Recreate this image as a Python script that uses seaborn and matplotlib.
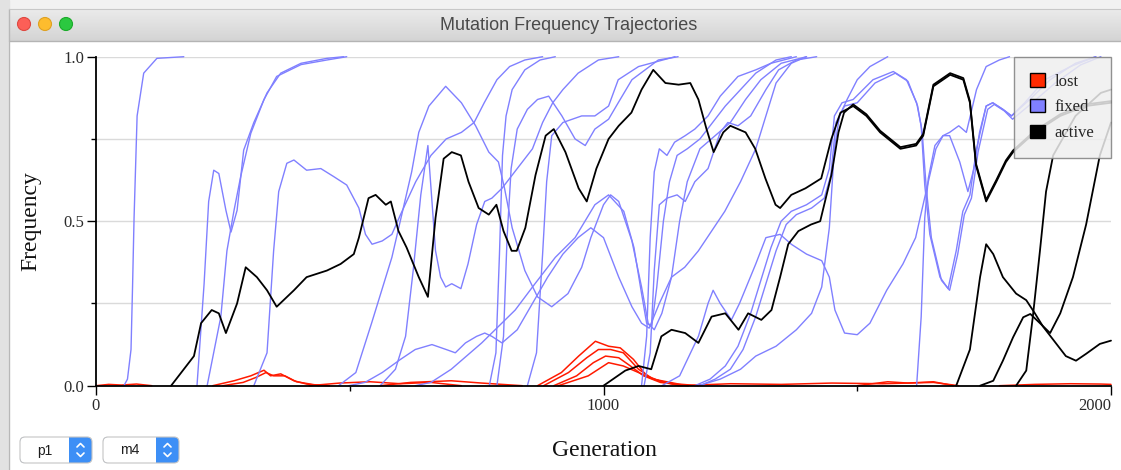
import numpy as np
import pandas as pd
import matplotlib
matplotlib.use("Agg")
import matplotlib.pyplot as plt
import seaborn as sns
from matplotlib.patches import Rectangle, Circle, FancyBboxPatch, Patch

# ---------------------------------------------------------------------------
# Mutation trajectories: (generations, frequencies) for each mutation
# ---------------------------------------------------------------------------
# lost mutations
lost_a = ([230, 272, 305, 331, 344, 364, 390, 415, 440], [0, 0.015, 0.03, 0.047, 0.03, 0.036, 0.015, 0.005, 0])
lost_b = ([250, 290, 315, 335, 350, 372, 395, 430, 460], [0, 0.01, 0.025, 0.04, 0.03, 0.03, 0.012, 0.003, 0])
lost_c = ([870, 917, 951, 984, 1010, 1033, 1059, 1085, 1118, 1167], [0, 0.04, 0.09, 0.135, 0.12, 0.115, 0.08, 0.03, 0.01, 0])
lost_d = ([882, 931, 967, 990, 1014, 1039, 1069, 1098, 1148], [0, 0.04, 0.085, 0.11, 0.11, 0.10, 0.05, 0.02, 0])
lost_e = ([902, 947, 980, 1004, 1030, 1053, 1079, 1112, 1167], [0, 0.03, 0.07, 0.09, 0.085, 0.06, 0.03, 0.01, 0])
lost_f = ([911, 970, 1010, 1039, 1069, 1098, 1148, 1187], [0, 0.03, 0.07, 0.06, 0.04, 0.02, 0.005, 0])
lost_g = ([0, 25, 50, 80, 110], [0, 0.004, 0.002, 0.005, 0])
lost_h = ([420, 480, 540, 600, 660, 720], [0, 0.008, 0.012, 0.006, 0.01, 0])
lost_i = ([560, 620, 700, 760, 800, 840], [0, 0.01, 0.015, 0.008, 0.004, 0])
lost_j = ([1150, 1250, 1350, 1450, 1550, 1650, 1700], [0, 0.006, 0.004, 0.008, 0.006, 0.01, 0])
lost_k = ([1500, 1560, 1600, 1650, 1690], [0, 0.012, 0.008, 0.012, 0])
lost_l = ([1780, 1850, 1920, 1980, 2000], [0, 0.004, 0.006, 0.005, 0.004])

# fixed mutations
fixed_01 = ([55, 62, 69, 72, 75, 81, 94, 120, 173], [0, 0.02, 0.11, 0.30, 0.51, 0.82, 0.95, 0.995, 1.0])
fixed_02 = ([199, 213, 222, 232, 242, 256, 266, 278, 291, 311, 337, 364, 404, 455, 488],
            [0, 0.31, 0.56, 0.655, 0.645, 0.533, 0.467, 0.533, 0.716, 0.80, 0.89, 0.95, 0.98, 0.995, 1.0])
fixed_03 = ([219, 246, 258, 272, 285, 305, 331, 356, 404, 455, 494],
            [0, 0.21, 0.41, 0.533, 0.635, 0.767, 0.87, 0.94, 0.976, 0.99, 1.0])
fixed_04 = ([311, 337, 350, 360, 376, 390, 415, 443, 469, 494, 518, 531, 544, 564, 583, 600, 630, 660, 690, 720, 745, 765, 790, 815, 845, 880],
            [0, 0.10, 0.41, 0.59, 0.676, 0.686, 0.655, 0.66, 0.635, 0.61, 0.54, 0.46, 0.43, 0.44, 0.46, 0.52, 0.62, 0.70, 0.75, 0.77, 0.80, 0.86, 0.93, 0.97, 0.99, 1.0])
fixed_05 = ([478, 512, 543, 583, 622, 636, 656, 689, 720, 748, 774, 793, 805, 820, 845, 870, 898, 930, 957, 975, 1000, 1014, 1030, 1056, 1075, 1088, 1100, 1115, 1134, 1150, 1165, 1190, 1220, 1250, 1280, 1310, 1350, 1400],
            [0, 0.04, 0.19, 0.39, 0.65, 0.77, 0.85, 0.91, 0.86, 0.79, 0.71, 0.68, 0.60, 0.48, 0.35, 0.27, 0.24, 0.28, 0.36, 0.45, 0.55, 0.58, 0.56, 0.44, 0.30, 0.19, 0.17, 0.22, 0.33, 0.50, 0.62, 0.72, 0.76, 0.80, 0.87, 0.93, 0.98, 1.0])
fixed_06 = ([560, 590, 610, 625, 640, 654, 662, 669, 679, 689, 701, 719, 733, 750, 766, 780, 800, 830, 860, 880, 900, 920, 950, 990, 1030],
            [0, 0.05, 0.15, 0.35, 0.58, 0.73, 0.56, 0.41, 0.33, 0.30, 0.31, 0.295, 0.37, 0.49, 0.56, 0.57, 0.60, 0.66, 0.72, 0.80, 0.86, 0.90, 0.95, 0.99, 1.0])
fixed_07 = ([775, 788, 795, 801, 808, 820, 845, 875, 905], [0, 0.10, 0.40, 0.70, 0.82, 0.90, 0.96, 0.99, 1.0])
fixed_08 = ([790, 803, 810, 818, 830, 850, 870, 892, 918, 944, 964, 983, 1010, 1029, 1056, 1108, 1147],
            [0, 0.15, 0.45, 0.66, 0.78, 0.84, 0.87, 0.88, 0.82, 0.75, 0.73, 0.78, 0.81, 0.86, 0.93, 0.99, 1.0])
fixed_09 = ([850, 868, 880, 888, 898, 920, 957, 983, 1010, 1029, 1069, 1141],
            [0, 0.10, 0.40, 0.62, 0.76, 0.80, 0.82, 0.82, 0.85, 0.93, 0.97, 1.0])
fixed_10 = ([498, 530, 564, 600, 629, 662, 690, 708, 728, 750, 766, 780, 800, 830, 860, 890, 920, 950, 975, 1000, 1030, 1056, 1075, 1090, 1110, 1134, 1160, 1187, 1213, 1239, 1270, 1300, 1320, 1340, 1370, 1400],
            [0, 0.01, 0.04, 0.08, 0.11, 0.125, 0.11, 0.10, 0.13, 0.15, 0.16, 0.15, 0.13, 0.17, 0.25, 0.33, 0.40, 0.45, 0.48, 0.45, 0.33, 0.24, 0.19, 0.175, 0.25, 0.33, 0.36, 0.41, 0.47, 0.53, 0.62, 0.72, 0.82, 0.92, 0.98, 1.0])
fixed_11 = ([629, 660, 700, 760, 826, 865, 905, 944, 983, 1010, 1040, 1060, 1075, 1085, 1095, 1105, 1118, 1130, 1145, 1165, 1190, 1215, 1240, 1270, 1300, 1340, 1370],
            [0, 0.01, 0.05, 0.13, 0.23, 0.31, 0.39, 0.45, 0.55, 0.58, 0.53, 0.42, 0.28, 0.19, 0.18, 0.30, 0.50, 0.62, 0.70, 0.72, 0.75, 0.80, 0.85, 0.90, 0.95, 0.99, 1.0])
fixed_12 = ([1115, 1150, 1187, 1206, 1216, 1230, 1252, 1268, 1300, 1320, 1348, 1370, 1400, 1430, 1445, 1456, 1475, 1500, 1525, 1558, 1590, 1615, 1640, 1655, 1669, 1682, 1700, 1715, 1735, 1754, 1780, 1800],
            [0, 0.03, 0.15, 0.25, 0.29, 0.25, 0.20, 0.25, 0.37, 0.45, 0.46, 0.43, 0.40, 0.38, 0.33, 0.23, 0.16, 0.155, 0.19, 0.29, 0.37, 0.45, 0.62, 0.72, 0.76, 0.77, 0.79, 0.77, 0.90, 0.97, 0.99, 1.0])
fixed_13 = ([1187, 1230, 1270, 1300, 1340, 1380, 1410, 1430, 1445, 1455, 1465, 1480, 1500, 1525, 1560],
            [0, 0.02, 0.05, 0.09, 0.12, 0.17, 0.22, 0.30, 0.48, 0.72, 0.82, 0.87, 0.93, 0.97, 1.0])
fixed_14 = ([1075, 1085, 1092, 1100, 1110, 1125, 1140, 1161, 1180, 1206, 1230, 1265, 1300, 1330, 1380],
            [0, 0.15, 0.45, 0.65, 0.72, 0.70, 0.74, 0.76, 0.78, 0.82, 0.88, 0.94, 0.96, 0.98, 1.0])
fixed_15 = ([1080, 1092, 1100, 1110, 1125, 1145, 1161, 1180, 1206, 1230, 1245, 1265, 1290, 1320, 1345, 1380, 1420],
            [0, 0.10, 0.35, 0.55, 0.57, 0.58, 0.56, 0.62, 0.66, 0.77, 0.80, 0.79, 0.82, 0.90, 0.96, 0.99, 1.0])
fixed_16 = ([1180, 1210, 1240, 1265, 1290, 1310, 1330, 1350, 1370, 1400, 1430, 1445, 1455, 1470, 1492, 1531, 1571, 1597, 1617, 1626, 1633, 1643, 1663, 1679, 1695, 1708, 1722, 1735, 1754, 1767, 1787, 1804, 1840, 1880, 1930, 1970],
            [0, 0.02, 0.06, 0.12, 0.22, 0.32, 0.42, 0.50, 0.53, 0.55, 0.58, 0.66, 0.82, 0.86, 0.87, 0.93, 0.955, 0.93, 0.86, 0.79, 0.61, 0.46, 0.33, 0.295, 0.41, 0.53, 0.58, 0.72, 0.85, 0.86, 0.84, 0.82, 0.87, 0.93, 0.98, 1.0])
fixed_17 = ([1190, 1220, 1250, 1275, 1300, 1320, 1340, 1360, 1380, 1410, 1435, 1448, 1458, 1475, 1500, 1535, 1575, 1600, 1619, 1628, 1636, 1646, 1666, 1682, 1698, 1711, 1725, 1738, 1757, 1770, 1790, 1806, 1845, 1890, 1940, 1980],
            [0, 0.02, 0.05, 0.11, 0.21, 0.31, 0.41, 0.49, 0.52, 0.54, 0.57, 0.64, 0.80, 0.85, 0.86, 0.92, 0.95, 0.925, 0.85, 0.77, 0.60, 0.45, 0.32, 0.29, 0.40, 0.52, 0.57, 0.71, 0.84, 0.855, 0.835, 0.81, 0.86, 0.92, 0.975, 1.0])
fixed_18 = ([1617, 1626, 1633, 1640, 1653, 1669, 1682, 1702, 1718, 1730, 1741, 1754, 1767, 1787, 1804, 1830, 1870, 1920, 1970],
            [0, 0.21, 0.51, 0.63, 0.73, 0.76, 0.76, 0.68, 0.59, 0.66, 0.77, 0.85, 0.86, 0.84, 0.82, 0.86, 0.93, 0.97, 1.0])

# mutations still segregating at the end of the run
active_1 = ([148, 193, 207, 228, 242, 256, 278, 295, 317, 337, 356, 390, 415, 455, 482, 508, 518, 537, 551, 571, 581, 596, 612, 636, 654, 669, 685, 701, 719, 734, 754, 774, 789, 803, 819, 829, 846, 866, 886, 902, 925, 951, 967, 986, 1010, 1030, 1055, 1075, 1098, 1122, 1148, 1171, 1187, 1203, 1217, 1236, 1250, 1280, 1299, 1319, 1339, 1348, 1370, 1398, 1429, 1449, 1467, 1492, 1518, 1545, 1585, 1616, 1630, 1650, 1683, 1709, 1722, 1734, 1754, 1774, 1793, 1807, 1850, 1900, 1950, 2000],
            [0, 0.09, 0.19, 0.23, 0.22, 0.16, 0.25, 0.36, 0.33, 0.29, 0.24, 0.29, 0.33, 0.35, 0.37, 0.40, 0.45, 0.57, 0.58, 0.55, 0.56, 0.47, 0.42, 0.33, 0.27, 0.51, 0.69, 0.71, 0.70, 0.62, 0.54, 0.52, 0.55, 0.47, 0.41, 0.41, 0.48, 0.64, 0.76, 0.78, 0.71, 0.60, 0.56, 0.66, 0.75, 0.79, 0.83, 0.90, 0.96, 0.92, 0.915, 0.92, 0.87, 0.78, 0.71, 0.77, 0.79, 0.77, 0.72, 0.63, 0.55, 0.54, 0.58, 0.60, 0.63, 0.75, 0.83, 0.85, 0.82, 0.77, 0.72, 0.73, 0.76, 0.91, 0.945, 0.93, 0.86, 0.67, 0.56, 0.62, 0.68, 0.71, 0.77, 0.82, 0.85, 0.86])
active_2 = ([1000, 1043, 1069, 1094, 1114, 1134, 1161, 1187, 1213, 1240, 1266, 1285, 1311, 1331, 1348, 1364, 1384, 1409, 1427, 1449, 1463, 1474, 1492, 1518, 1545, 1585, 1616, 1630, 1650, 1683, 1709, 1722, 1734, 1754, 1774, 1793, 1807, 1850, 1900, 1950, 2000],
            [0, 0.046, 0.06, 0.05, 0.15, 0.17, 0.16, 0.13, 0.21, 0.22, 0.17, 0.22, 0.20, 0.23, 0.33, 0.43, 0.47, 0.49, 0.50, 0.64, 0.77, 0.83, 0.855, 0.825, 0.775, 0.725, 0.735, 0.765, 0.915, 0.95, 0.935, 0.865, 0.675, 0.565, 0.625, 0.685, 0.715, 0.775, 0.825, 0.855, 0.865])
active_3 = ([1695, 1722, 1742, 1754, 1768, 1787, 1813, 1833, 1850, 1866, 1886, 1911, 1931, 1951, 1978, 2000],
            [0, 0.11, 0.33, 0.43, 0.40, 0.33, 0.28, 0.26, 0.22, 0.18, 0.14, 0.09, 0.076, 0.097, 0.127, 0.137])
active_4 = ([1742, 1768, 1787, 1807, 1827, 1841, 1860, 1880, 1900, 1925, 1951, 1978, 2000],
            [0, 0.015, 0.076, 0.147, 0.208, 0.218, 0.19, 0.16, 0.22, 0.33, 0.49, 0.70, 0.80])
active_5 = ([1813, 1833, 1846, 1860, 1872, 1886, 1930, 1980, 2000],
            [0, 0.046, 0.21, 0.41, 0.59, 0.70, 0.82, 0.89, 0.90])

status_labels = ["lost", "fixed", "active"]
status_colors = {"lost": "#ff1a00", "fixed": "#8080ff", "active": "#000000"}
popup_labels = ["p1", "m4"]

groups = {
    "lost": [lost_a, lost_b, lost_c, lost_d, lost_e, lost_f, lost_g, lost_h, lost_i, lost_j, lost_k, lost_l],
    "fixed": [fixed_01, fixed_02, fixed_03, fixed_04, fixed_05, fixed_06, fixed_07, fixed_08, fixed_09,
              fixed_10, fixed_11, fixed_12, fixed_13, fixed_14, fixed_15, fixed_16, fixed_17, fixed_18],
    "active": [active_1, active_2, active_3, active_4, active_5],
}

rows = []
for status, trajs in groups.items():
    for i, (gens, freqs) in enumerate(trajs):
        for g, f in zip(gens, freqs):
            rows.append({"generation": g, "frequency": f, "mutation": f"{status}{i}", "status": status})
df = pd.DataFrame(rows)

# ---------------------------------------------------------------------------
# Figure: window chrome + plot
# ---------------------------------------------------------------------------
sns.set_style("white")
W, H = 1121, 470
fig = plt.figure(figsize=(W / 100, H / 100), dpi=100)

chrome = fig.add_axes([0, 0, 1, 1], zorder=-5)
chrome.set_xlim(0, W)
chrome.set_ylim(H, 0)
chrome.axis("off")

# desktop strip and window body
chrome.add_patch(Rectangle((0, 0), W, H, color="#f2f2f2", zorder=0))
chrome.add_patch(Rectangle((0, 0), 9, H, color="#e2e2e2", zorder=0))
chrome.add_patch(Rectangle((9, 41), W - 9, H - 41, color="white", zorder=1))
# title bar gradient
grad = np.linspace(0, 1, 64).reshape(-1, 1)
title_cmap = matplotlib.colors.LinearSegmentedColormap.from_list("tb", ["#ebebeb", "#d4d4d4"])
chrome.imshow(grad, extent=[9, W, 41, 9], cmap=title_cmap, aspect="auto", zorder=1)
chrome.plot([9, W], [41, 41], color="#b4b4b4", lw=1, zorder=2)
chrome.plot([9, 9], [9, H], color="#b8b8b8", lw=1, zorder=2)
chrome.plot([9, W], [9, 9], color="#c8c8c8", lw=0.8, zorder=2)
for cx, fc, ec in [(24, "#fc5f57", "#de4840"), (45, "#fdbc2e", "#dea123"), (66, "#2bc840", "#1aab29")]:
    chrome.add_patch(Circle((cx, 24), 6.5, facecolor=fc, edgecolor=ec, lw=0.8, zorder=3))
chrome.text(569, 25, "Mutation Frequency Trajectories", ha="center", va="center",
            fontsize=13, color="#4a4a4a", family=["Liberation Sans", "DejaVu Sans"], zorder=3)

# popup buttons
for (x0, x1, xs), label in zip([(20, 92, 69), (103, 179, 156)], popup_labels):
    y0, h = 437, 26
    chrome.add_patch(FancyBboxPatch((x0, y0), x1 - x0, h, boxstyle="round,pad=0,rounding_size=5",
                                    facecolor="#3d8ff6", edgecolor="none", zorder=3))
    chrome.add_patch(FancyBboxPatch((x0, y0), xs - x0 + 8, h, boxstyle="round,pad=0,rounding_size=5",
                                    facecolor="white", edgecolor="none", zorder=4))
    chrome.add_patch(Rectangle((xs, y0), 10, h, facecolor="#3d8ff6", edgecolor="none", zorder=5))
    chrome.add_patch(FancyBboxPatch((x0, y0), x1 - x0, h, boxstyle="round,pad=0,rounding_size=5",
                                    facecolor="none", edgecolor="#c4c4c4", lw=0.8, zorder=6))
    cx = (xs + x1) / 2
    chrome.plot([cx - 3.5, cx, cx + 3.5], [y0 + 10, y0 + 6.5, y0 + 10], color="white", lw=1.2, zorder=7)
    chrome.plot([cx - 3.5, cx, cx + 3.5], [y0 + 16, y0 + 19.5, y0 + 16], color="white", lw=1.2, zorder=7)
    chrome.text((x0 + xs) / 2, y0 + h / 2 + 0.5, label, ha="center", va="center", fontsize=10,
                color="#1e1e1e", family=["Liberation Sans", "DejaVu Sans"], zorder=7)

# plot area
ax_l, ax_r, ax_t, ax_b = 96, 1111, 56.7, 385.7
ax = fig.add_axes([ax_l / W, (H - ax_b) / H, (ax_r - ax_l) / W, (ax_b - ax_t) / H])
ax.set_facecolor("none")

widths = {"lost": 1.1, "fixed": 1.0, "active": 1.3}
for status in status_labels:
    sub = df[df["status"] == status]
    sns.lineplot(data=sub, x="generation", y="frequency", units="mutation", estimator=None,
                 sort=False, color=status_colors[status], lw=widths[status], ax=ax, legend=False)
for ln in ax.lines:
    ln.set_clip_on(False)

ax.set_xlim(0, 2000)
ax.set_ylim(0, 1)
ax.set_xlabel("")
ax.set_ylabel("")
ax.set_xticks([0, 1000, 2000])
ax.set_xticks([500, 1500], minor=True)
ax.set_yticks([0, 0.5, 1.0])
ax.set_yticks([0.25, 0.75], minor=True)
ax.set_xticklabels(["0", "1000", "2000"])
ax.set_yticklabels(["0.0", "0.5", "1.0"])
ax.grid(True, axis="y", which="both", color="#dadada", lw=1)
ax.set_axisbelow(True)
ax.tick_params(which="major", direction="out", length=6.5, width=1, color="black", pad=2,
               labelsize=12, labelcolor="#2b2b2b", left=True, bottom=True)
ax.tick_params(which="minor", direction="out", length=3.5, width=1, color="black", left=True, bottom=True)
for lbl in ax.get_xticklabels() + ax.get_yticklabels():
    lbl.set_family(["Liberation Serif", "DejaVu Serif"])
ax.get_xticklabels()[-1].set_horizontalalignment("right")
for side in ["top", "right"]:
    ax.spines[side].set_visible(False)
for side in ["left", "bottom"]:
    ax.spines[side].set_color("black")
    ax.spines[side].set_linewidth(1.3)

ax.text((31 - ax_l) / (ax_r - ax_l), 0.5, "Frequency", rotation=90, ha="center", va="center",
        transform=ax.transAxes, fontsize=17, family=["Liberation Serif", "DejaVu Serif"], color="#111111")
ax.text((604 - ax_l) / (ax_r - ax_l), (ax_b - 450) / (ax_b - ax_t), "Generation", ha="center", va="center",
        transform=ax.transAxes, fontsize=17, family=["Liberation Serif", "DejaVu Serif"], color="#111111")

handles = [Patch(facecolor=status_colors[s] if s != "lost" else "#ff2a00", edgecolor="black", lw=1, label=s)
           for s in status_labels]
leg = ax.legend(handles=handles, loc="upper right", bbox_to_anchor=(1.0, 1.0), borderaxespad=0,
                frameon=True, fancybox=False, framealpha=0.85, facecolor="#efefef", edgecolor="#7f7f7f",
                prop={"family": ["Liberation Serif", "DejaVu Serif"], "size": 12},
                handlelength=0.85, handleheight=0.85, handletextpad=0.6, labelspacing=0.55, borderpad=1.0)
leg.get_frame().set_linewidth(1.0)
leg.set_zorder(10)

fig.savefig("out.png", dpi=100)
